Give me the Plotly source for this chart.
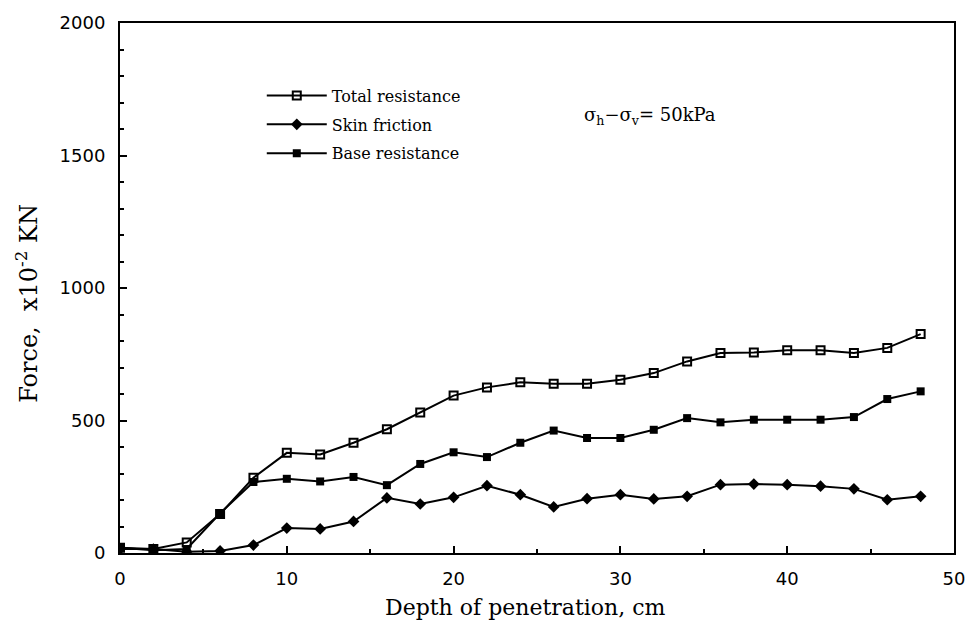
import plotly.graph_objects as go

depth = [0, 2, 4, 6, 8, 10, 12, 14, 16, 18, 20, 22, 24, 26, 28, 30, 32, 34, 36, 38, 40, 42, 44, 46, 48]
total_resistance = [20, 15, 40, 147, 284, 378, 372, 416, 467, 530, 594, 625, 644, 639, 639, 654, 679, 723, 755, 757, 765, 765, 755, 774, 826]
skin_friction = [15, 15, 5, 8, 30, 94, 91, 119, 208, 185, 210, 254, 220, 174, 205, 220, 204, 214, 258, 260, 258, 252, 242, 201, 214]
base_resistance = [20, 10, 15, 150, 268, 280, 270, 287, 256, 336, 380, 362, 416, 462, 434, 434, 465, 509, 493, 503, 503, 503, 513, 581, 610]

series_names = ["Total resistance", "Skin friction", "Base resistance"]
x_ticks = [0, 10, 20, 30, 40, 50]
y_ticks = [0, 500, 1000, 1500, 2000]

SERIF = "DejaVu Serif"
SANS = "DejaVu Sans"

fig = go.Figure()
specs = [
    (series_names[0], total_resistance, dict(symbol="square-open", size=8, color="black", line=dict(width=2, color="black"))),
    (series_names[1], skin_friction, dict(symbol="diamond", size=9, color="black")),
    (series_names[2], base_resistance, dict(symbol="square", size=8, color="black")),
]
for name, ys, mk in specs:
    fig.add_trace(go.Scatter(
        x=depth, y=ys, name=name, legendgroup=name,
        mode="lines+markers",
        line=dict(color="black", width=2),
        marker=mk,
    ))

fig.update_layout(
    width=977, height=623,
    margin=dict(l=120, r=22, t=16, b=70),
    paper_bgcolor="white", plot_bgcolor="white",
    showlegend=True,
    legend=dict(
        x=0.17, y=0.895, xanchor="left", yanchor="top",
        font=dict(family=SERIF, size=16, color="black"),
        bgcolor="rgba(0,0,0,0)", borderwidth=0,
        tracegroupgap=5, itemwidth=60,
    ),
    xaxis=dict(
        range=[0, 50], tickvals=x_ticks, ticks="inside", ticklen=7, tickwidth=1.5, tickcolor="black",
        minor=dict(dtick=5, ticks="inside", ticklen=4, tickcolor="black"),
        showline=True, linecolor="black", linewidth=2, mirror=True,
        showgrid=False, zeroline=False,
        tickfont=dict(family=SANS, size=18, color="black"),
        ticklabelstandoff=8,
    ),
    yaxis=dict(
        range=[0, 2000], tickvals=y_ticks, ticks="inside", ticklen=7, tickwidth=1.5, tickcolor="black",
        minor=dict(dtick=100, ticks="inside", ticklen=4, tickcolor="black"),
        showline=True, linecolor="black", linewidth=2, mirror=True,
        showgrid=False, zeroline=False,
        tickfont=dict(family=SANS, size=18, color="black"),
        ticklabelstandoff=9,
    ),
    annotations=[
        dict(text="σ<sub>h</sub>−σ<sub>v</sub>= 50kPa", x=27.7, y=1650, xref="x", yref="y",
             xanchor="left", yanchor="middle", showarrow=False,
             font=dict(family=SERIF, size=18, color="black")),
        dict(text="Force,  x10<sup>-2</sup> KN", x=-0.111, y=0.471, xref="paper", yref="paper",
             xanchor="center", yanchor="middle", textangle=-90, showarrow=False,
             font=dict(family=SERIF, size=24, color="black")),
        dict(text="Depth of penetration, cm", x=0.486, y=-0.102, xref="paper", yref="paper",
             xanchor="center", yanchor="middle", showarrow=False,
             font=dict(family=SERIF, size=22, color="black")),
    ],
)

fig.write_html("out.html")
